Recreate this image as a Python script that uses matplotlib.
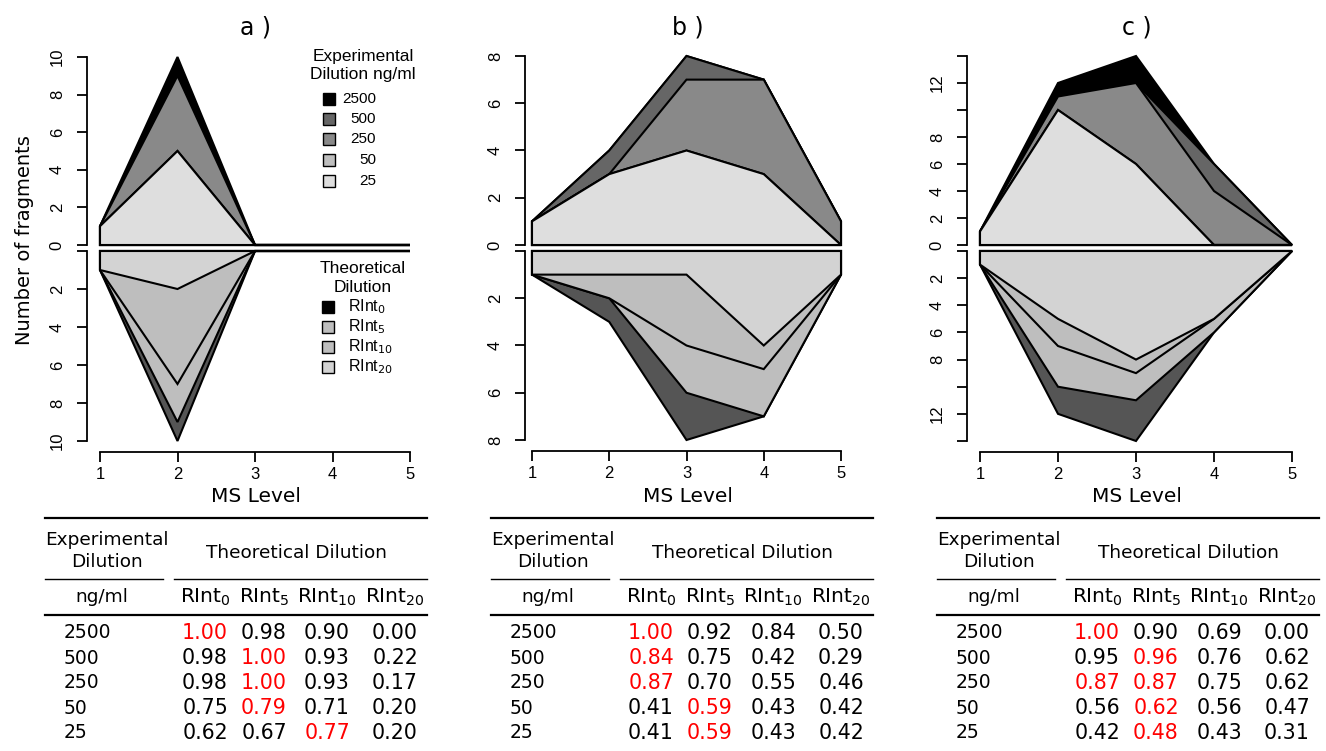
import matplotlib
matplotlib.use("Agg")
import matplotlib.pyplot as plt
from matplotlib.patches import Rectangle
from matplotlib.lines import Line2D

W, H = 1326, 751

ms_level = [1, 2, 3, 4, 5]

# experimental dilutions (ng/ml), largest drawn first so smaller ones sit on top
exp_dilutions = ["2500", "500", "250", "50", "25"]
exp_colors = ["#000000", "#666666", "#898989", "#bebebe", "#dedede"]

exp_a = [[1, 10, 0, 0, 0], [1, 9, 0, 0, 0], [1, 9, 0, 0, 0], [1, 5, 0, 0, 0], [1, 5, 0, 0, 0]]
exp_b = [[1, 4, 8, 7, 1], [1, 4, 8, 7, 1], [1, 3, 7, 7, 1], [1, 3, 4, 3, 0], [1, 3, 4, 3, 0]]
exp_c = [[1, 12, 14, 6, 0], [1, 11, 12, 6, 0], [1, 11, 12, 4, 0], [1, 10, 6, 0, 0], [1, 10, 6, 0, 0]]

# theoretical dilutions, drawn downwards
theo_labels = [r"RInt$_{0}$", r"RInt$_{5}$", r"RInt$_{10}$", r"RInt$_{20}$"]
theo_legend_colors = ["#000000", "#bebebe", "#bebebe", "#d3d3d3"]
theo_fill_colors = ["#555555", "#bebebe", "#bebebe", "#d3d3d3"]

theo_a = [[1, 10, 0, 0, 0], [1, 9, 0, 0, 0], [1, 7, 0, 0, 0], [1, 2, 0, 0, 0]]
theo_b = [[1, 3, 8, 7, 1], [1, 2, 6, 7, 1], [1, 2, 4, 5, 1], [1, 1, 1, 4, 1]]
theo_c = [[1, 12, 14, 6, 0], [1, 10, 11, 6, 0], [1, 7, 9, 5, 0], [1, 5, 8, 5, 0]]

# correlation tables (rows = experimental dilution, cols = RInt0/5/10/20)
tab_a = [[1.00, 0.98, 0.90, 0.00],
         [0.98, 1.00, 0.93, 0.22],
         [0.98, 1.00, 0.93, 0.17],
         [0.75, 0.79, 0.71, 0.20],
         [0.62, 0.67, 0.77, 0.20]]
tab_b = [[1.00, 0.92, 0.84, 0.50],
         [0.84, 0.75, 0.42, 0.29],
         [0.87, 0.70, 0.55, 0.46],
         [0.41, 0.59, 0.43, 0.42],
         [0.41, 0.59, 0.43, 0.42]]
tab_c = [[1.00, 0.90, 0.69, 0.00],
         [0.95, 0.96, 0.76, 0.62],
         [0.87, 0.87, 0.75, 0.62],
         [0.56, 0.62, 0.56, 0.47],
         [0.42, 0.48, 0.43, 0.31]]

panel_titles = ["a )", "b )", "c )"]

SANS = "Liberation Sans"
DEJ = "DejaVu Sans"

fig = plt.figure(figsize=(W / 100, H / 100), dpi=100)


def add_px_axes(x0, x1, ytop, ybot):
    return fig.add_axes([x0 / W, 1 - ybot / H, (x1 - x0) / W, (ybot - ytop) / H])


def ftext(x, y, s, **kw):
    return fig.text(x / W, 1 - y / H, s, **kw)


def fline(x0, x1, y, lw):
    fig.add_artist(Line2D([x0 / W, x1 / W], [1 - y / H] * 2,
                          transform=fig.transFigure, color="black", lw=lw))


def fbox(x, y, color):
    fig.add_artist(Rectangle((x / W, 1 - (y + 6) / H), 12 / W, 12 / H,
                             transform=fig.transFigure, facecolor=color,
                             edgecolor="black", lw=1.0))


def style_yaxis(ax, ymax, offset_px, labelled):
    for s in ["top", "right", "bottom"]:
        ax.spines[s].set_visible(False)
    ax.spines["left"].set_position(("outward", offset_px * 0.72))
    ax.spines["left"].set_bounds(0, ymax)
    ax.spines["left"].set_linewidth(1.3)
    ticks = list(range(0, ymax + 1, 2))
    ax.set_yticks(ticks)
    ax.set_yticklabels([str(t) if t in labelled else "" for t in ticks])
    ax.tick_params(axis="y", length=7, width=1.3, pad=9, labelrotation=90,
                   labelsize=12)
    for lbl in ax.get_yticklabels():
        lbl.set_va("center")
        lbl.set_family(SANS)


def draw_panel(x1, x5, spine_off, ymax, up_top, lo_bot, exp_vals, theo_vals,
               up_labels, lo_labels):
    up = add_px_axes(x1, x5, up_top, 245)
    lo = add_px_axes(x1, x5, 251, lo_bot)

    for vals, col in zip(exp_vals, exp_colors):
        up.fill([1] + ms_level + [5], [0] + vals + [0], facecolor=col,
                edgecolor="black", lw=1.5, clip_on=False, joinstyle="miter")
    for vals, col in zip(theo_vals, theo_fill_colors):
        lo.fill([1] + ms_level + [5], [0] + vals + [0], facecolor=col,
                edgecolor="black", lw=1.5, clip_on=False, joinstyle="miter")

    up.set_xlim(1, 5)
    up.set_ylim(0, ymax)
    lo.set_xlim(1, 5)
    lo.set_ylim(ymax, 0)
    for ax in (up, lo):
        ax.patch.set_visible(False)

    style_yaxis(up, ymax, spine_off, up_labels)
    style_yaxis(lo, ymax, spine_off, lo_labels)
    up.set_xticks([])

    lo.spines["bottom"].set_visible(True)
    lo.spines["bottom"].set_position(("outward", 11 * 0.72))
    lo.spines["bottom"].set_bounds(1, 5)
    lo.spines["bottom"].set_linewidth(1.3)
    lo.set_xticks(ms_level)
    lo.set_xticklabels([str(m) for m in ms_level])
    lo.tick_params(axis="x", length=7, width=1.3, pad=4, labelsize=12)
    for lbl in lo.get_xticklabels():
        lbl.set_family(SANS)


def draw_table(left, values):
    fline(left, left + 382, 518, 1.6)
    fline(left, left + 118, 579, 1.0)
    fline(left + 129, left + 382, 579, 1.0)
    fline(left, left + 382, 615, 1.6)
    tk = dict(family=DEJ, ha="center", va="center", fontsize=13.3)
    ftext(left + 62, 540, "Experimental", **tk)
    ftext(left + 62, 562, "Dilution", **tk)
    ftext(left + 251, 553, "Theoretical Dilution", **tk)
    ftext(left + 57, 597, "ng/ml", **tk)
    cols = [160, 219, 282, 350]
    for cx, lab in zip(cols, theo_labels):
        ftext(left + cx, 597, lab, family=DEJ, ha="center", va="center", fontsize=14.5)
    rows_y = [633, 658, 683, 708, 733]
    for ry, dil, row in zip(rows_y, exp_dilutions, values):
        ftext(left + 19, ry, dil, family=DEJ, ha="left", va="center", fontsize=13.5)
        best = max(row)
        for cx, v in zip(cols, row):
            ftext(left + cx, ry, f"{v:.2f}", family=DEJ, ha="center", va="center",
                  fontsize=14.8, color="#ff0000" if v == best else "black")


# three panels
draw_panel(100, 410, 13, 10, 57, 441, exp_a, theo_a,
           [0, 2, 4, 6, 8, 10], [2, 4, 6, 8, 10])
draw_panel(532, 841, 7, 8, 56, 440, exp_b, theo_b,
           [0, 2, 4, 6, 8], [2, 4, 6, 8])
draw_panel(980, 1292, 13, 14, 56, 441, exp_c, theo_c,
           [0, 2, 4, 6, 8, 12], [2, 4, 6, 8, 12])

for cx, t in zip([256, 688, 1137], panel_titles):
    ftext(cx, 27, t, family=DEJ, ha="center", va="center", fontsize=17)
    ftext(cx, 497, "MS Level", family=DEJ, ha="center", va="center", fontsize=14.5)

ftext(24, 240, "Number of fragments", family=DEJ, ha="center", va="center",
      rotation=90, fontsize=14)

# legends in panel a
ftext(363, 57, "Experimental", family=SANS, ha="center", va="center", fontsize=12.5)
ftext(363, 74, "Dilution ng/ml", family=SANS, ha="center", va="center", fontsize=12.5)
for ly, lab, col in zip([99, 119, 139, 160, 181], exp_dilutions, exp_colors):
    fbox(323, ly, col)
    ftext(376, ly, lab, family=SANS, ha="right", va="center", fontsize=11)

ftext(363, 269, "Theoretical", family=SANS, ha="center", va="center", fontsize=12.5)
ftext(363, 288, "Dilution", family=SANS, ha="center", va="center", fontsize=12.5)
for ly, lab, col in zip([307, 327, 347, 367], theo_labels, theo_legend_colors):
    fbox(322, ly, col)
    ftext(348, ly, lab, family=SANS, ha="left", va="center", fontsize=11.5)

for left, tab in zip([45, 491, 937], [tab_a, tab_b, tab_c]):
    draw_table(left, tab)

fig.savefig("out.png", dpi=100, facecolor="white")
